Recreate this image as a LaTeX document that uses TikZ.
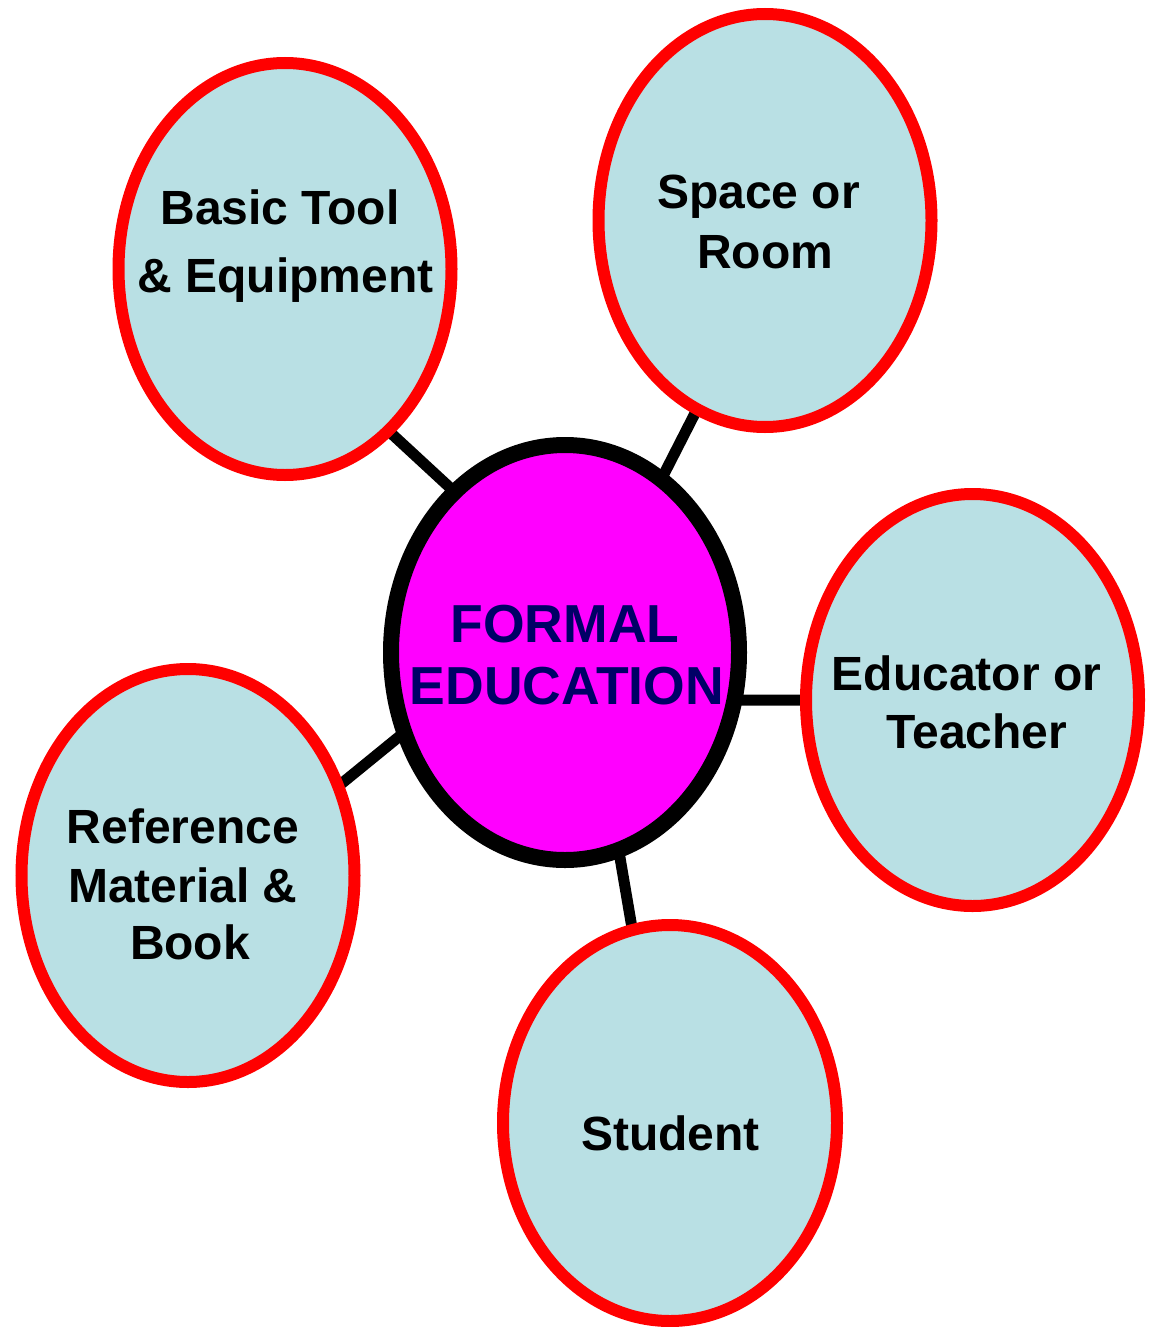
\documentclass[tikz,border=0pt]{standalone}
\usepackage{fontspec}
\setmainfont{Liberation Sans}
\usetikzlibrary{shapes.geometric}
\definecolor{bubble}{RGB}{185,224,228}
\definecolor{ringred}{RGB}{255,0,0}
\definecolor{hubfill}{RGB}{255,0,255}
\definecolor{hubtext}{RGB}{0,0,102}
\pgfdeclarelayer{background}
\pgfsetlayers{background,main}
\tikzset{
  bubblenode/.style={ellipse, draw=ringred, line width=12pt, fill=bubble, inner sep=0pt, minimum width=333pt, minimum height=412pt},
  hubnode/.style={ellipse, draw=black, line width=16pt, fill=hubfill, inner sep=0pt, minimum width=348pt, minimum height=415pt},
  lbl/.style={inner sep=0pt, anchor=base, font=\fontsize{48}{56}\selectfont\bfseries},
  hublbl/.style={inner sep=0pt, anchor=base, text=hubtext, font=\fontsize{53.5}{62}\selectfont\bfseries},
  link/.style={draw=black, line width=11pt, shorten <=-8pt, shorten >=-8pt}
}
\begin{document}
\begin{tikzpicture}[x=1pt, y=-1pt]
\useasboundingbox (0,0) rectangle (1150,1327);
% bubbles
\node[bubblenode] (bt) at (285,269) {};
\node[bubblenode, minimum height=413pt] (sr) at (765,220.5) {};
\node[bubblenode] (et) at (972.5,700) {};
\node[bubblenode, minimum height=413pt] (rm) at (188,875.5) {};
\node[bubblenode, minimum width=334pt, minimum height=396pt] (st) at (670,1123) {};
\node[hubnode] (fe) at (565,652.5) {};
% connectors
\begin{pgfonlayer}{background}
\draw[link] (bt.-57.5) -- (fe.125.3);
\draw[link] (sr.-110.6) -- (fe.61.5);
\draw[link] (et.180) -- (fe.-15.4);
\draw[link] (rm.31.8) -- (fe.207.1);
\draw[link] (st.101.9) -- (fe.-75.9);
\end{pgfonlayer}
% texts
\node[lbl] (bt1) at (280,224) {Basic Tool};
\node[lbl] (bt2) at (285.5,292) {\& Equipment};
\node[lbl] (sr1) at (758.5,208) {Space or};
\node[lbl] (sr2) at (765,268) {Room};
\node[lbl] (et1) at (966.5,690) {Educator or};
\node[lbl] (et2) at (977,748) {Teacher};
\node[lbl] (rm1) at (183,843) {Reference};
\node[lbl] (rm2) at (183,902) {Material \&};
\node[lbl] (rm3) at (190,959) {Book};
\node[lbl] (st1) at (670.5,1150) {Student};
\node[hublbl] (fe1) at (565,642) {FORMAL};
\node[hublbl] (fe2) at (567,704) {EDUCATION};
\end{tikzpicture}
\end{document}
